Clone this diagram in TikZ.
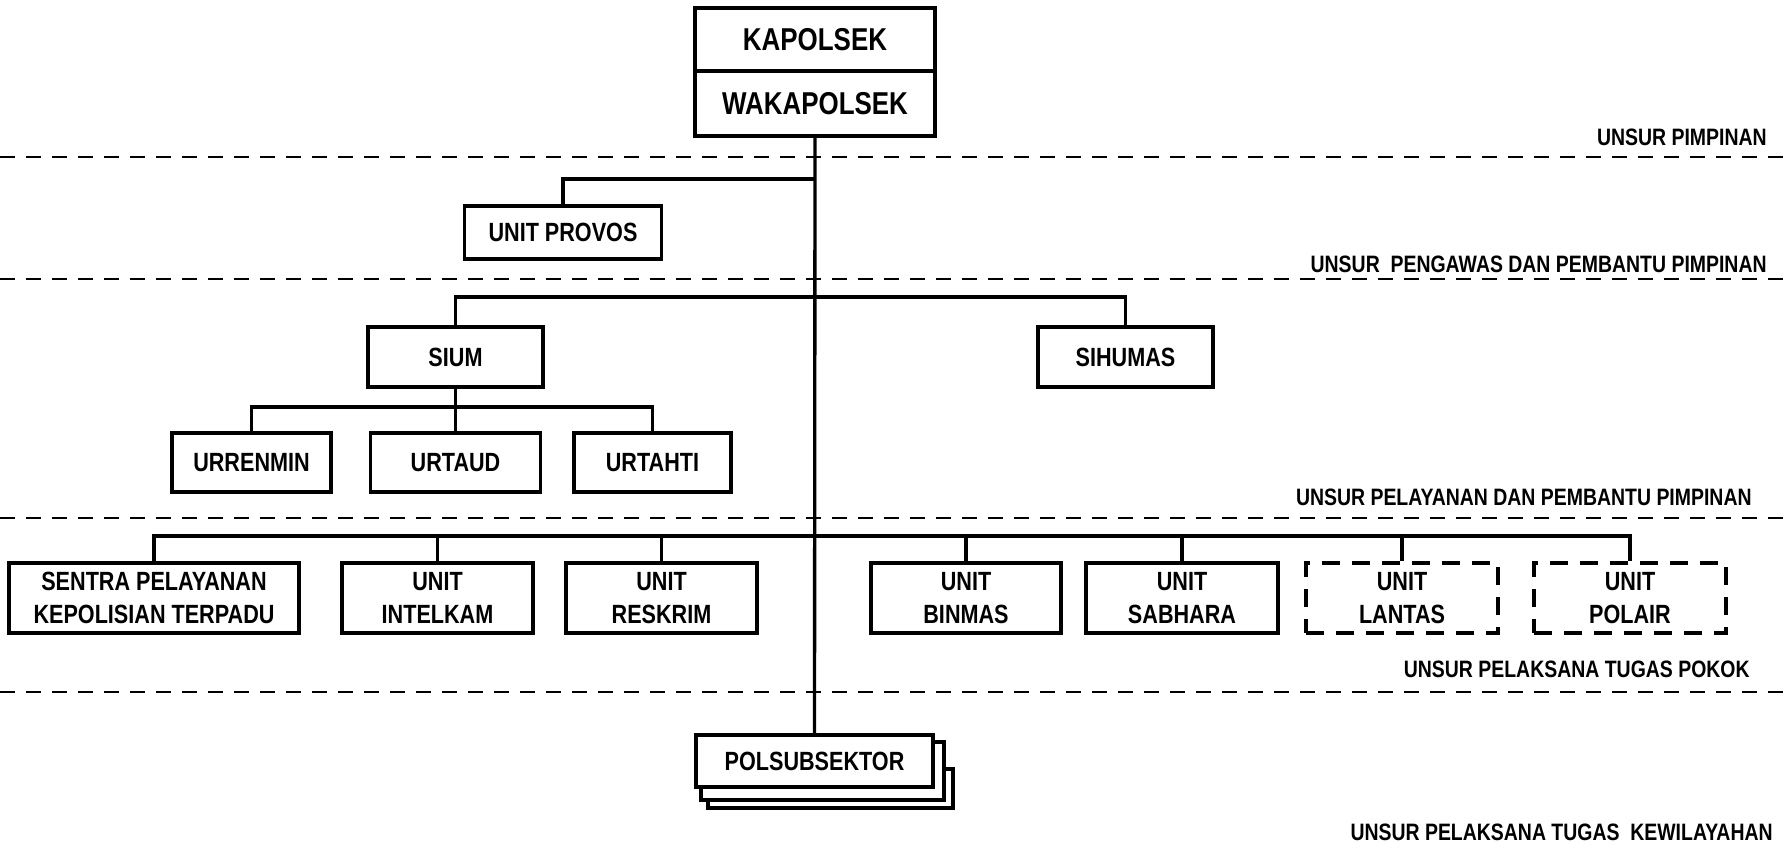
\documentclass[tikz,border=0pt]{standalone}
\usepackage{fontspec}
\setmainfont[FakeStretch=0.82]{Liberation Sans}
\usepackage{tikz}

\tikzset{
  kotak/.style={draw, line width=2.2pt, fill=white, align=center, inner sep=2pt, font=\fontsize{15}{19}\selectfont\bfseries},
  kotakputus/.style={kotak, dash pattern=on 0.36cm off 0.24cm},
  kepala/.style={kotak, font=\fontsize{18}{22}\selectfont\bfseries},
  garis/.style={line width=1.9pt},
  pemisah/.style={line width=1.5pt, dash pattern=on 0.3cm off 0.22cm},
  ket/.style={inner sep=0pt, anchor=east, font=\fontsize{13.5}{16}\selectfont\bfseries}
}

\begin{document}
\begin{tikzpicture}[x=0.02cm, y=-0.02cm]
                    \useasboundingbox (0,0) rectangle (1787,853);

                    \draw[pemisah] (0,157) -- (1787,157);
                    \draw[pemisah] (0,279) -- (1787,279);
                    \draw[pemisah] (0,518) -- (1787,518);
                    \draw[pemisah] (0,692) -- (1787,692);

                    \node[ket] (lpimpinan) at (1767,137) {UNSUR PIMPINAN};
                    \node[ket] (lpengawas) at (1767,264) {UNSUR\ \ PENGAWAS DAN PEMBANTU PIMPINAN};
                    \node[ket] (lpelayanan) at (1752,497) {UNSUR PELAYANAN DAN PEMBANTU PIMPINAN};
                    \node[ket] (lpokok) at (1750,669) {UNSUR PELAKSANA TUGAS POKOK};
                    \node[ket] (lwilayah) at (1773,832) {UNSUR PELAKSANA TUGAS\ \ KEWILAYAHAN};

                    \node[kepala, minimum width=4.8cm, minimum height=1.26cm] (kapolsek) at (815,39.5) {KAPOLSEK};
                    \node[kepala, minimum width=4.8cm, minimum height=1.3cm] (wakapolsek) at (815,103.5) {WAKAPOLSEK};

                    \node[kotak, minimum width=3.94cm, minimum height=1.06cm] (provos) at (563,232.5) {UNIT PROVOS};

                    \node[kotak, minimum width=3.5cm, minimum height=1.2cm] (sium) at (455.5,357) {SIUM};
                    \node[kotak, minimum width=3.5cm, minimum height=1.2cm] (sihumas) at (1125.5,357) {SIHUMAS};

                    \node[kotak, minimum width=3.18cm, minimum height=1.18cm] (urrenmin) at (251.5,462.5) {URRENMIN};
                    \node[kotak, minimum width=3.4cm, minimum height=1.18cm] (urtaud) at (455.5,462.5) {URTAUD};
                    \node[kotak, minimum width=3.14cm, minimum height=1.18cm] (urtahti) at (652.5,462.5) {URTAHTI};

                    \node[kotak, minimum width=5.8cm, minimum height=1.4cm] (sentra) at (154,598) {SENTRA PELAYANAN\\KEPOLISIAN TERPADU};
                    \node[kotak, minimum width=3.82cm, minimum height=1.4cm] (intelkam) at (437.5,598) {UNIT\\INTELKAM};
                    \node[kotak, minimum width=3.82cm, minimum height=1.4cm] (reskrim) at (661.5,598) {UNIT\\RESKRIM};
                    \node[kotak, minimum width=3.8cm, minimum height=1.4cm] (binmas) at (966,598) {UNIT\\BINMAS};
                    \node[kotak, minimum width=3.84cm, minimum height=1.4cm] (sabhara) at (1182,598) {UNIT\\SABHARA};
                    \node[kotakputus, minimum width=3.84cm, minimum height=1.4cm] (lantas) at (1402,598) {UNIT\\LANTAS};
                    \node[kotakputus, minimum width=3.84cm, minimum height=1.4cm] (polair) at (1630,598) {UNIT\\POLAIR};

                    \draw[kotak] (708,769) rectangle (953,808);
                    \draw[kotak] (701,742) rectangle (944,800);
                    \node[kotak, minimum width=4.74cm, minimum height=1.04cm] (polsub) at (814.5,761) {POLSUBSEKTOR};

                    \coordinate (tprovos) at (814.5,179);
                    \draw[garis] (wakapolsek.south) -- (polsub.north);
                    \draw[garis] (provos.north) |- (tprovos);
                    \draw[garis] (sium.north) -- ++(0,-28) -| (sihumas.north);
                    \draw[garis] (sium.south) -- (urtaud.north);
                    \draw[garis] (urrenmin.north) -- ++(0,-24) -| (urtahti.north);
                    \draw[garis] (sentra.north) -- ++(0,-25) -| (polair.north);
                    \foreach \n in {intelkam,reskrim,binmas,sabhara,lantas}
                      \draw[garis] (\n.north) -- ++(0,-25);
                \end{tikzpicture}
\end{document}
